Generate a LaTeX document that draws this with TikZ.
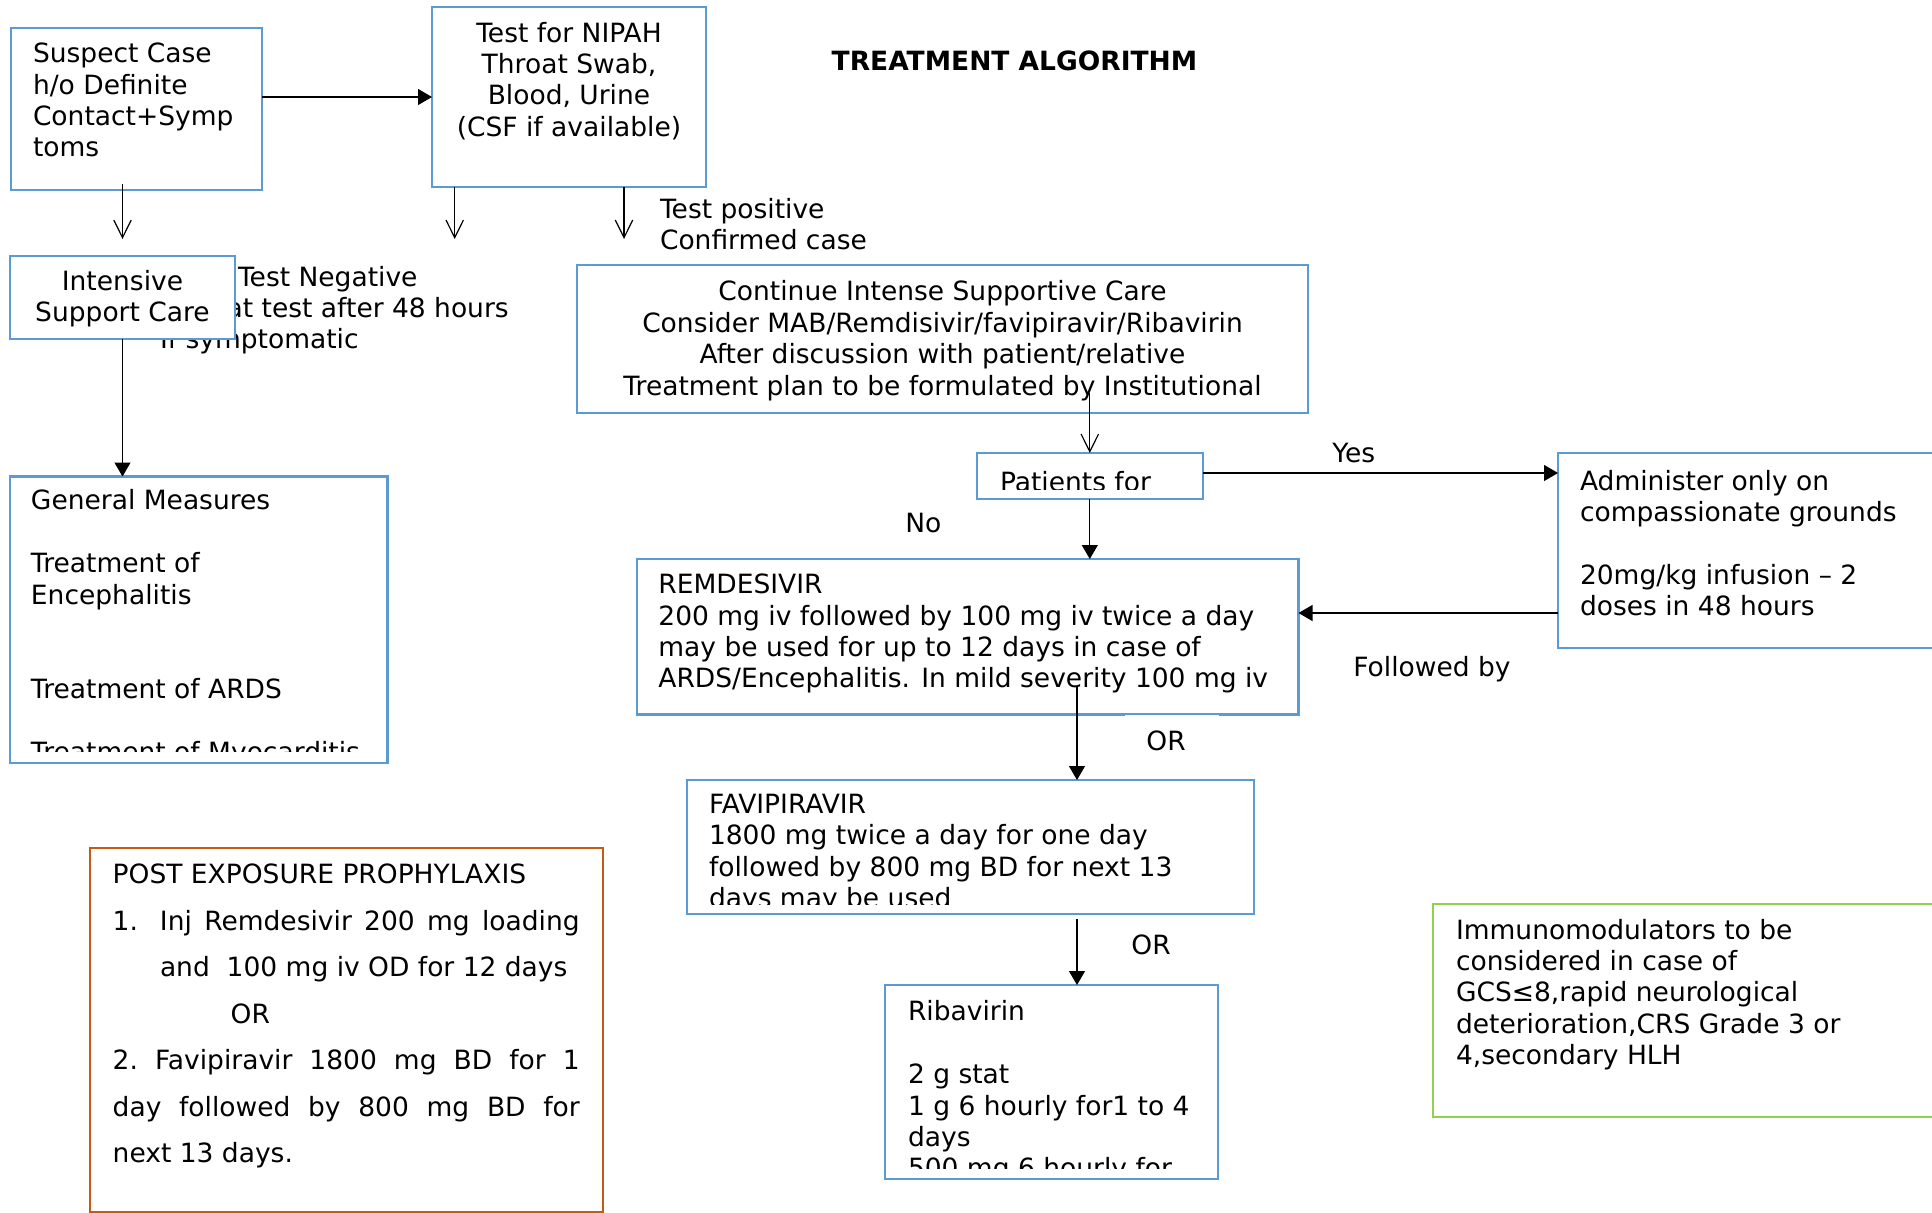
\documentclass[tikz,border=0pt]{standalone}
\usepackage{fontspec}
\setmainfont{DejaVu Sans}
\usetikzlibrary{positioning,fit,calc,arrows.meta}
\definecolor{accblue}{HTML}{5B9BD5}
\definecolor{accorange}{HTML}{C55A11}
\definecolor{accgreen}{HTML}{92D050}
\newcommand{\boxfont}{\fontsize{13.25}{15.7}\selectfont}
\newcommand{\pepfont}{\fontsize{13.25}{23.25}\selectfont}
\tikzset{bluebox/.style={draw=accblue, line width=1.1pt, fill=white, inner sep=0pt, outer sep=0pt}}
\tikzset{boxtxt/.style={anchor=north west, inner sep=0pt, outer sep=0pt, align=left, font=\boxfont, yshift=-1pt, execute at begin node={\rule{0pt}{11pt}}}}
\tikzset{ctrtxt/.style={boxtxt, anchor=north, align=center}}
\tikzset{lbl/.style={anchor=base west, inner sep=0pt, font=\boxfont}}
\tikzset{arr/.style={draw, line width=0.6pt, -{Triangle[length=7pt,width=8pt]}}}
\tikzset{arro/.style={draw, line width=0.6pt, -{Straight Barb[length=8.8pt,width=8.7pt,line width=0.6pt]}}}

\begin{document}
\begin{tikzpicture}[x=0.5pt, y=-0.5pt]
\useasboundingbox (0,0) rectangle (1932,1212);
\clip (0,0) rectangle (1932,1212);
\node[lbl, anchor=base, font=\boxfont\bfseries] (title) at (1014.5,70) {TREATMENT ALGORITHM};

% top row
\node[bluebox, fit={(11,28) (262,190)}] (suspect) {};
\node[boxtxt] (suspecttxt) at (33,41) {Suspect Case\\h/o Definite\\Contact+Symp\\toms};
\node[bluebox, fit={(432,7) (706,187)}] (nipah) {};
\node[ctrtxt] (nipahtxt) at (569,20) {Test for NIPAH\\Throat Swab,\\Blood, Urine\\(CSF if available)};

\node[boxtxt] (negtxt) at (160,264) {\hspace*{39pt}Test Negative\\Repeat test after 48 hours\\If symptomatic};
\node[boxtxt] (postxt) at (660,196) {Test positive\\Confirmed case};
\node[bluebox, fit={(10,256) (235,339)}] (isc) {};
\node[ctrtxt] (isctxt) at (122.5,268) {Intensive\\Support Care};

\node[bluebox, fit={(577,265) (1308,413)}] (cont) {};
\node[ctrtxt] (conttxt) at (942.5,278.7) {Continue Intense Supportive Care\\Consider MAB/Remdisivir/favipiravir/Ribavirin\\After discussion with patient/relative\\Treatment plan to be formulated by Institutional};

% left column
\node[bluebox, fit={(10,476.5) (387.5,762.7)}] (gen) {};
\begin{scope}
  \clip (10,476.5) rectangle (387.5,751);
  \node[boxtxt] (gentxt) at (31,487.7) {General Measures\\ \\Treatment of\\Encephalitis\\ \\ \\Treatment of ARDS\\ \\Treatment of Myocarditis};
\end{scope}

\node[bluebox, draw=accorange, fit={(90,848) (603,1212)}] (pep) {};
\node[boxtxt, font=\pepfont] (peptxt) at (112.7,862) {POST EXPOSURE PROPHYLAXIS\\
\makebox[23.65pt][l]{1.}\makebox[209.85pt][s]{Inj Remdesivir 200 mg loading}\\
\hspace*{23.65pt}and\ \ 100 mg iv OD for 12 days\\
\hspace*{59pt}OR\\
\makebox[233.5pt][s]{2.\ Favipiravir 1800 mg BD for 1}\\
\makebox[233.5pt][s]{day followed by 800 mg BD for}\\
next 13 days.};

% treatment chain
\node[bluebox, fit={(976.6,453) (1203,499)}] (pat) {};
\begin{scope}
  \clip (976.6,453) rectangle (1203,489.5);
  \node[boxtxt] (pattxt) at (1000,467) {Patients for};
\end{scope}

\node[bluebox, fit={(1558,453) (1960,648)}] (admin) {};
\node[boxtxt] (admintxt) at (1580,468) {Administer only on\\compassionate grounds\\ \\20mg/kg infusion – 2\\doses in 48 hours};

\node[bluebox, fit={(637,559) (1298.5,714.5)}] (rem) {};
\node[boxtxt] (remtxt) at (658.4,572) {REMDESIVIR\\200 mg iv followed by 100 mg iv twice a day\\may be used for up to 12 days in case of\\ARDS/Encephalitis. In mild severity 100 mg iv};

\node[bluebox, fit={(687,780) (1253.6,914)}] (fav) {};
\begin{scope}
  \clip (687,780) rectangle (1253.6,904);
  \node[boxtxt] (favtxt) at (709,792) {FAVIPIRAVIR\\1800 mg twice a day for one day\\followed by 800 mg BD for next 13\\days may be used};
\end{scope}

\node[bluebox, fit={(885,985) (1218,1179)}] (rib) {};
\begin{scope}
  \clip (885,985) rectangle (1218,1168);
  \node[boxtxt] (ribtxt) at (908,998.7) {Ribavirin\\ \\2 g stat\\1 g 6 hourly for1 to 4\\days\\500 mg 6 hourly for};
\end{scope}

\node[bluebox, draw=accgreen, fit={(1433,904) (1960,1117)}] (immuno) {};
\node[boxtxt] (immunotxt) at (1456,917) {Immunomodulators to be\\considered in case of\\GCS≤8,rapid neurological\\deterioration,CRS Grade 3 or\\4,secondary HLH};

% labels
\node[lbl] (yes) at (1332,462) {Yes};
\node[lbl] (no) at (905,532.7) {No};
\node[lbl] (follow) at (1353,676) {Followed by};
\node[lbl, fill=white, inner ysep=7.7pt] (or1) at (1125,750) {\hspace*{10.5pt}OR\hspace*{16.5pt}};
\node[lbl] (or2) at (1131,954) {OR};

% connectors
\coordinate (negA) at (122.5,239);
\coordinate (negB) at (454.7,239);
\coordinate (posC) at (624,239);
\coordinate (remfav) at (1077,687);
\draw[arr] (suspect.east |- nipah.west) -- (nipah.west);
\draw[arro] ($(suspect.south -| negA)+(0,-6)$) -- (negA);
\draw[arro] (nipah.south -| negB) -- (negB);
\draw[arro] (nipah.south -| posC) -- (posC);
\draw[arr] (isc.south) -- (gen.north -| isc.south);
\draw[arro] ($(cont.south -| pat.north)+(0,-20)$) -- (pat.north);
\draw[arr] ($(pat.east)+(0,-3)$) coordinate (py) -- (py -| admin.west);
\draw[arr] (pat.south) -- (pat.south |- rem.north);
\draw[arr] ($(admin.south west)+(0,-35)$) coordinate (fb) -- (fb -| rem.east);
\draw[arr] (remfav) -- (remfav |- fav.north);
\draw[arr] ($(fav.south -| remfav)+(0,5)$) -- (remfav |- rib.north);
\end{tikzpicture}
\end{document}
